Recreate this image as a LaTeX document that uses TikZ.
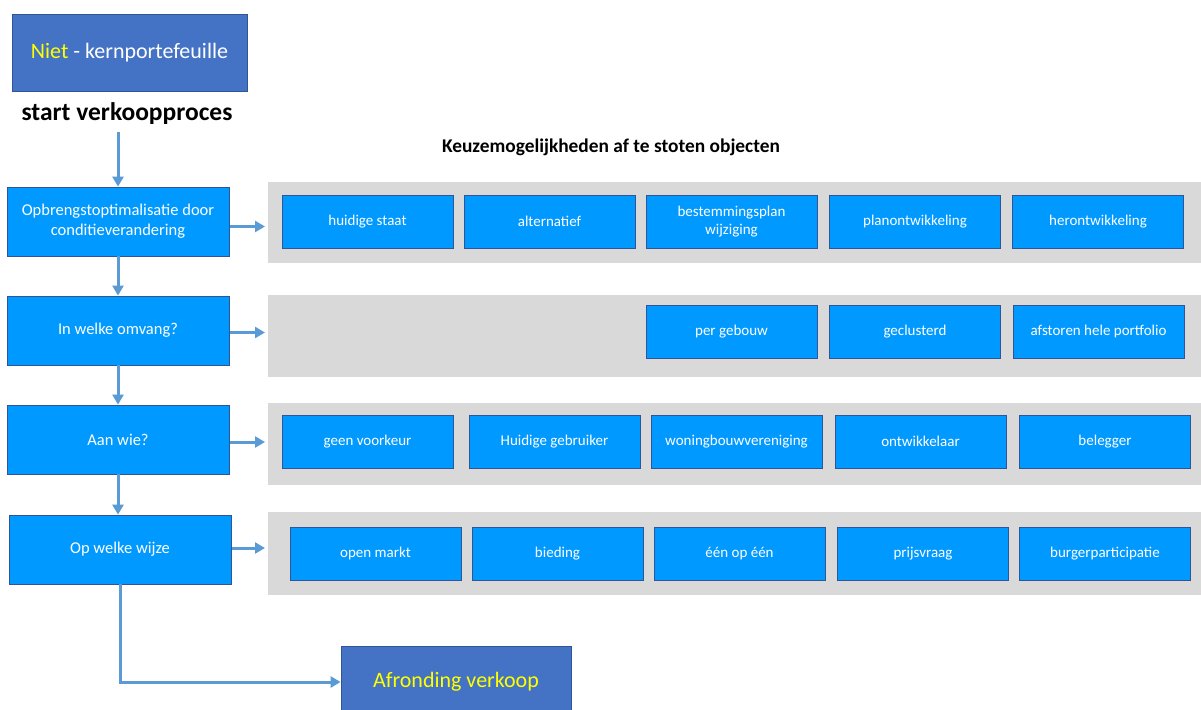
\documentclass[tikz,border=0pt]{standalone}
\usepackage{fontspec}
\setmainfont{Carlito}
\usetikzlibrary{arrows.meta,positioning}

\definecolor{stapblauw}{RGB}{0,153,255}
\definecolor{randblauw}{RGB}{47,85,151}
\definecolor{kopblauw}{RGB}{68,114,196}
\definecolor{pijlblauw}{RGB}{91,155,213}
\definecolor{bandgrijs}{RGB}{217,217,217}
\definecolor{geel}{RGB}{255,255,0}

\begin{document}
\begin{tikzpicture}[x=1pt, y=-1pt,
    stap/.style={draw=randblauw, fill=stapblauw, text=white, line width=0.8pt,
      minimum width=222pt, minimum height=69pt, inner sep=0pt, align=center,
      font=\fontsize{16.5}{20}\selectfont},
    keuze/.style={draw=randblauw, fill=stapblauw, text=white, line width=0.8pt,
      minimum width=171pt, minimum height=53pt, inner sep=0pt, align=center,
      font=\fontsize{15}{18}\selectfont},
    band/.style={fill=bandgrijs, draw=none, anchor=north west, inner sep=0pt,
      minimum width=933pt},
    kop/.style={draw=randblauw, fill=kopblauw, text=white, line width=0.8pt,
      inner sep=0pt, align=center},
    pijl/.style={draw=pijlblauw, line width=3pt,
      -{Triangle[length=10pt, width=11pt]}}]
  \useasboundingbox (0,0) rectangle (1201,709);

  % Kop en start
  \node[kop, minimum width=235pt, minimum height=77pt,
    font=\fontsize{22}{26}\selectfont] (kern) at (129.5,52.5)
    {\textcolor{geel}{Niet} - kernportefeuille};
  \node[font=\bfseries\fontsize{25.5}{30}\selectfont] (start) at (127,114) {start verkoopproces};
  \node[font=\bfseries\fontsize{19.4}{23}\selectfont] (keuzekop) at (611,147)
    {Keuzemogelijkheden af te stoten objecten};

  % Grijze banden
  \node[band, minimum height=81pt] (band1) at (268,182) {};
  \node[band, minimum height=82pt] (band2) at (268,295) {};
  \node[band, minimum height=82pt] (band3) at (268,403) {};
  \node[band, minimum height=83pt] (band4) at (268,512) {};

  % Stappen links
  \node[stap] (stap1) at (118,221.5) {Opbrengstoptimalisatie door\\conditieverandering};
  \node[stap] (stap2) at (118,330.5) {In welke omvang?};
  \node[stap] (stap3) at (118,439.5) {Aan wie?};
  \node[stap] (stap4) at (120,549.5) {Op welke wijze};

  % Keuzes per rij
  \foreach \x/\tekst [count=\i] in {367.5/huidige staat, 549.5/alternatief,
      731.5/{bestemmingsplan\\wijziging}, 915/planontwikkeling, 1098/herontwikkeling} {
    \node[keuze] (rij1optie\i) at (\x,221.5) {\tekst};
  }
  \foreach \x/\tekst [count=\i] in {731.5/per gebouw, 915/geclusterd,
      1098.5/afstoren hele portfolio} {
    \node[keuze] (rij2optie\i) at (\x,331.5) {\tekst};
  }
  \foreach \x/\tekst [count=\i] in {367.5/geen voorkeur, 554.5/Huidige gebruiker,
      736.5/woningbouwvereniging, 920.5/ontwikkelaar, 1105/belegger} {
    \node[keuze] (rij3optie\i) at (\x,441.5) {\tekst};
  }
  \foreach \x/\tekst [count=\i] in {375.5/open markt, 557.5/bieding,
      739.5/één op één, 923/prijsvraag, 1105/burgerparticipatie} {
    \node[keuze] (rij4optie\i) at (\x,553.5) {\tekst};
  }

  % Afronding
  \node[kop, minimum width=230pt, minimum height=72pt, text=geel,
    font=\fontsize{22}{26}\selectfont] (afronding) at (456,682) {Afronding verkoop};

  % Pijlen omlaag
  \draw[pijl, shorten <=4pt] (start.south -| stap1.north) -- (stap1.north);
  \foreach \i in {1,2,3} {
    \pgfmathsetmacro{\volgende}{int(\i+1)}
    \draw[pijl] (stap\i.south) -- (stap\i.south |- stap\volgende.north);
  }
  \draw[pijl] (stap4.south) |- (afronding.west);

  % Pijlen naar de banden
  \foreach \i/\dy in {1/5, 2/2, 3/2.5, 4/-1.5} {
    \draw[pijl, shorten <=1pt, shorten >=3pt]
      ([yshift=-\dy pt]stap\i.east) -- ([yshift=-\dy pt]stap\i.east -| band\i.west);
  }
\end{tikzpicture}
\end{document}
